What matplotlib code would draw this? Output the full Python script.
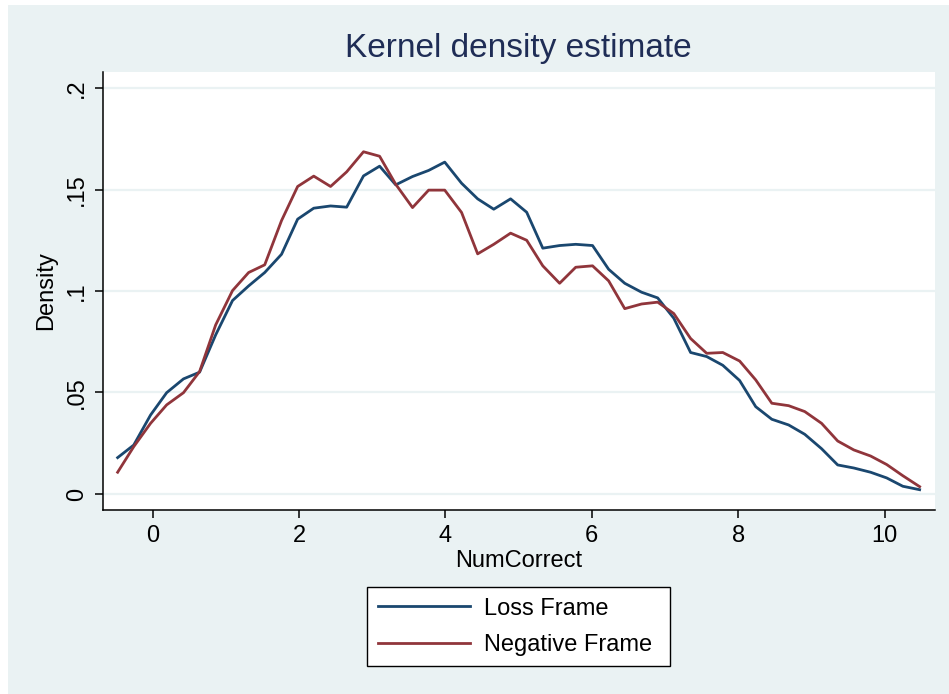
import matplotlib.pyplot as plt
from matplotlib.patches import Rectangle

plt.rcParams['font.family'] = ['Liberation Sans', 'DejaVu Sans']

# grid of NumCorrect values (50 points)
num_correct = [-0.48, -0.26, -0.03, 0.19, 0.42, 0.64, 0.86, 1.09, 1.31, 1.53,
               1.76, 1.98, 2.20, 2.43, 2.65, 2.88, 3.10, 3.32, 3.55, 3.77,
               3.99, 4.22, 4.44, 4.66, 4.89, 5.11, 5.33, 5.56, 5.78, 6.01,
               6.23, 6.45, 6.68, 6.90, 7.12, 7.35, 7.57, 7.79, 8.02, 8.24,
               8.46, 8.69, 8.91, 9.14, 9.36, 9.58, 9.81, 10.03, 10.25, 10.48]

loss_frame = [0.0179, 0.0241, 0.0389, 0.0499, 0.0567, 0.0600, 0.0784, 0.0953, 0.1025, 0.1091,
              0.1181, 0.1354, 0.1408, 0.1419, 0.1413, 0.1567, 0.1615, 0.1523, 0.1564, 0.1594,
              0.1635, 0.1531, 0.1454, 0.1403, 0.1454, 0.1388, 0.1211, 0.1224, 0.1230, 0.1224,
              0.1107, 0.1038, 0.0994, 0.0966, 0.0866, 0.0697, 0.0677, 0.0634, 0.0559, 0.0430,
              0.0368, 0.0340, 0.0294, 0.0223, 0.0143, 0.0128, 0.0107, 0.0079, 0.0038, 0.0021]

negative_frame = [0.0107, 0.0233, 0.0348, 0.0439, 0.0499, 0.0603, 0.0833, 0.1002, 0.1091, 0.1129,
                  0.1347, 0.1515, 0.1566, 0.1515, 0.1587, 0.1686, 0.1664, 0.1526, 0.1411, 0.1497,
                  0.1497, 0.1387, 0.1183, 0.1230, 0.1285, 0.1250, 0.1124, 0.1038, 0.1117, 0.1124,
                  0.1050, 0.0913, 0.0936, 0.0945, 0.0889, 0.0766, 0.0693, 0.0697, 0.0655, 0.0562,
                  0.0447, 0.0435, 0.0406, 0.0348, 0.0261, 0.0217, 0.0187, 0.0145, 0.0090, 0.0036]

yticks = [0, 0.05, 0.1, 0.15, 0.2]
ytick_labels = ['0', '.05', '.1', '.15', '.2']
xticks = [0, 2, 4, 6, 8, 10]

W, H = 949, 694
bg = '#eaf2f3'

fig = plt.figure(figsize=(W / 100, H / 100), dpi=100, facecolor='white')
# Stata-like graph region (thin white strip on top/left)
fig.patches.append(Rectangle((8 / W, 0), (W - 8) / W, (H - 5) / H,
                             transform=fig.transFigure, facecolor=bg,
                             edgecolor='none', zorder=-10))

ax = fig.add_axes([103 / W, 1 - 510 / H, (935 - 103) / W, (510 - 72) / H])
ax.set_facecolor('white')

ax.plot(num_correct, loss_frame, color='#1a476f', lw=2, label='Loss Frame')
ax.plot(num_correct, negative_frame, color='#90353b', lw=2, label='Negative Frame')

ax.set_xlim(-0.68, 10.69)
ax.set_ylim(-0.0079, 0.2079)
ax.set_yticks(yticks, ytick_labels)
ax.set_xticks(xticks)
for t in ax.get_yticklabels():
    t.set_rotation(90)
    t.set_va('center')
ax.grid(axis='y', color=bg, lw=1.6)
ax.set_axisbelow(True)

for s in ['top', 'right']:
    ax.spines[s].set_visible(False)
for s in ['left', 'bottom']:
    ax.spines[s].set_color('black')
    ax.spines[s].set_linewidth(1.1)
ax.tick_params(direction='out', length=6, width=1.1, labelsize=17, pad=5)

ax.set_xlabel('NumCorrect', fontsize=17, labelpad=2)
ax.set_ylabel('Density', fontsize=17, labelpad=6)
fig.text(518 / W, 1 - 48 / H, 'Kernel density estimate', fontsize=24,
         color='#1f2d56', ha='center', va='center')

fig.legend(loc='upper left', bbox_to_anchor=(367 / W, 1 - 666 / H, 303 / W, 79 / H),
           mode='expand', borderaxespad=0, fontsize=17, frameon=True,
           fancybox=False, edgecolor='black', facecolor='white', framealpha=1,
           handlelength=3.9, handletextpad=0.6, borderpad=0.45,
           labelspacing=0.6)

fig.savefig('out.png', dpi=100, facecolor=fig.get_facecolor())
